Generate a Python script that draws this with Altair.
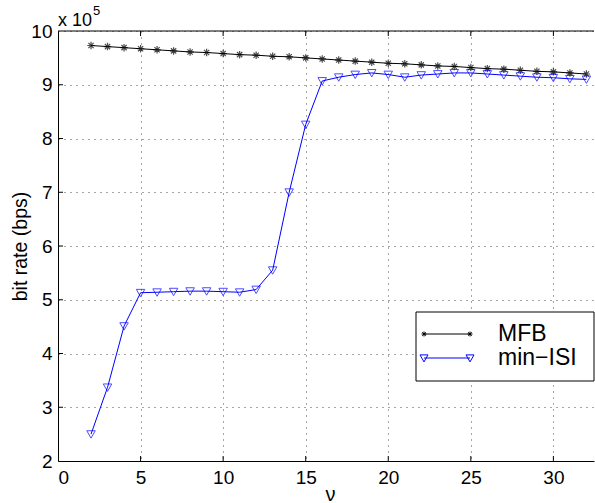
import altair as alt
import pandas as pd

# ---------------- data (bit rate in units of 1e5 bps) ----------------
nu = list(range(2, 33))
mfb = [9.73, 9.71, 9.69, 9.67, 9.65, 9.63, 9.61, 9.60, 9.58, 9.56, 9.55,
       9.53, 9.52, 9.50, 9.48, 9.46, 9.44, 9.42, 9.40, 9.39, 9.37, 9.35,
       9.34, 9.32, 9.30, 9.29, 9.27, 9.25, 9.24, 9.22, 9.20]
min_isi = [2.50, 3.37, 4.51, 5.13, 5.14, 5.15, 5.16, 5.16, 5.15, 5.14, 5.19,
           5.55, 7.00, 8.26, 9.07, 9.14, 9.19, 9.22, 9.19, 9.14, 9.18, 9.20,
           9.22, 9.22, 9.20, 9.18, 9.16, 9.14, 9.13, 9.11, 9.10]
series_names = ["MFB", "min\u2212ISI"]
series_colors = ["#000000", "#0000ff"]
x_ticks = [0, 5, 10, 15, 20, 25, 30]
y_ticks = [2, 3, 4, 5, 6, 7, 8, 9, 10]

df = pd.DataFrame({
    "nu": nu + nu,
    "rate": mfb + min_isi,
    "series": [series_names[0]] * len(nu) + [series_names[1]] * len(nu),
})
xt = pd.DataFrame({"t": x_ticks[1:]})
yt = pd.DataFrame({"t": y_ticks[1:-1]})
one = pd.DataFrame({"k": [0]})

W, H = 536, 430
XMAX = 32.46
FONT = "Liberation Sans"
xs = alt.Scale(domain=[0, XMAX], nice=False, zero=False)
ys = alt.Scale(domain=[2, 10], nice=False, zero=False)

AST = "M-1,0L1,0M0,-1L0,1M-0.7,-0.7L0.7,0.7M-0.7,0.7L0.7,-0.7"
TRI = "M-1,-0.8L1,-0.8L0,0.95Z"

# legend sample paths: line with a marker at each end (5 px per unit at size 100)
def ast_at(cx, r):
    d = round(r * 0.7, 3)
    return (f"M{cx-r:.2f},0L{cx+r:.2f},0M{cx:.2f},{-r:.2f}L{cx:.2f},{r:.2f}"
            f"M{cx-d:.2f},{-d:.2f}L{cx+d:.2f},{d:.2f}M{cx-d:.2f},{d:.2f}L{cx+d:.2f},{-d:.2f}")

def tri_at(cx):
    return f"M{cx-0.8:.2f},-0.62L{cx+0.8:.2f},-0.62L{cx:.2f},0.78Z"

LEG_PATHS = ["M-4.6,0L4.6,0" + ast_at(-4.6, 0.5) + ast_at(4.6, 0.5),
             "M-4.6,0L4.6,0" + tri_at(-4.6) + tri_at(4.6)]

grid_kw = dict(grid=True, gridColor="#000000", gridOpacity=0.7, gridDash=[1, 5],
               gridWidth=1, tickSize=0, domainColor="#000000", domainWidth=1,
               labelFont=FONT, labelFontSize=19, labelColor="#000000",
               titleFont=FONT, titleFontWeight="normal", titleColor="#000000")

x_enc = alt.X("nu:Q", scale=xs, axis=alt.Axis(
    values=x_ticks, labelPadding=7, title="\u03bd", titleFontSize=20,
    titleX=272, titleY=39, titleBaseline="alphabetic", titleAlign="center",
    **grid_kw))
y_enc = alt.Y("rate:Q", scale=ys, axis=alt.Axis(
    values=y_ticks, labelPadding=6, title="bit rate (bps)", titleFontSize=19.5,
    titleAngle=270, titleX=-38, titleY=215, titleAlign="center",
    titleBaseline="middle", **grid_kw))
xp = alt.X("nu:Q", scale=xs)
yp = alt.Y("rate:Q", scale=ys)

lines = alt.Chart(df).mark_line(strokeWidth=1).encode(
    x=x_enc, y=y_enc,
    color=alt.Color("series:N", scale=alt.Scale(domain=series_names, range=series_colors),
                    legend=None),
)

pts_mfb = alt.Chart(df).transform_filter(
    alt.datum.series == series_names[0]
).mark_point(shape=AST, size=56, filled=False, color=series_colors[0], strokeWidth=1.2).encode(
    x=xp, y=yp)

pts_isi = alt.Chart(df).transform_filter(
    alt.datum.series == series_names[1]
).mark_point(shape=TRI, size=72, filled=False, color=series_colors[1], strokeWidth=1).encode(
    x=xp, y=yp)

# inward tick marks and top border
bt = alt.Chart(xt).mark_rule(color="black", strokeWidth=1).encode(
    x=alt.X("t:Q", scale=xs), y=alt.datum(2), y2=alt.datum(2 + 5 / 53.75))
tt = alt.Chart(xt).mark_rule(color="black", strokeWidth=1).encode(
    x=alt.X("t:Q", scale=xs), y=alt.datum(10), y2=alt.datum(10 - 5 / 53.75))
lt = alt.Chart(yt).mark_rule(color="black", strokeWidth=1).encode(
    y=alt.Y("t:Q", scale=ys), x=alt.datum(0), x2=alt.datum(5 / 16.51))
top = alt.Chart(one).mark_rule(color="black", strokeWidth=1).encode(
    y=alt.datum(10), x=alt.datum(0), x2=alt.datum(XMAX))

exp_base = alt.Chart(one).mark_text(
    align="left", baseline="alphabetic", font=FONT, fontSize=18, dy=-5, color="black"
).encode(x=alt.datum(0), y=alt.datum(10), text=alt.value("x 10"))
exp_pow = alt.Chart(one).mark_text(
    align="left", baseline="alphabetic", font=FONT, fontSize=13, dx=35, dy=-16, color="black"
).encode(x=alt.datum(0), y=alt.datum(10), text=alt.value("5"))

# legend box (top-right corner of the axes, as in the MATLAB figure)
LX0, LX1, LY0, LY1 = 358, 536, 281, 350
ROW_Y = [303, 327]
SYM_X, TXT_X = 389, 440
leg = [alt.Chart(one).mark_rect(fill="white", stroke="black", strokeWidth=1).encode(
    x=alt.value(LX0), x2=alt.value(LX1), y=alt.value(LY0), y2=alt.value(LY1))]
for i, name in enumerate(series_names):
    leg.append(alt.Chart(one).mark_point(
        shape=LEG_PATHS[i], size=100, filled=False, color=series_colors[i],
        strokeWidth=1, opacity=1).encode(x=alt.value(SYM_X), y=alt.value(ROW_Y[i])))
    leg.append(alt.Chart(one).mark_text(
        align="left", baseline="middle", font=FONT, fontSize=23, color="black"
    ).encode(x=alt.value(TXT_X), y=alt.value(ROW_Y[i]), text=alt.value(name)))

chart = alt.layer(lines, pts_mfb, pts_isi, bt, tt, lt, top, exp_base, exp_pow, *leg).properties(
    width=W, height=H,
    autosize=alt.AutoSizeParams(type="none"),
    padding={"left": 58, "top": 31, "right": 1, "bottom": 42},
    background="white",
).configure_view(stroke=None)

chart.save("out.html", embed_options={"renderer": "svg", "actions": False})
